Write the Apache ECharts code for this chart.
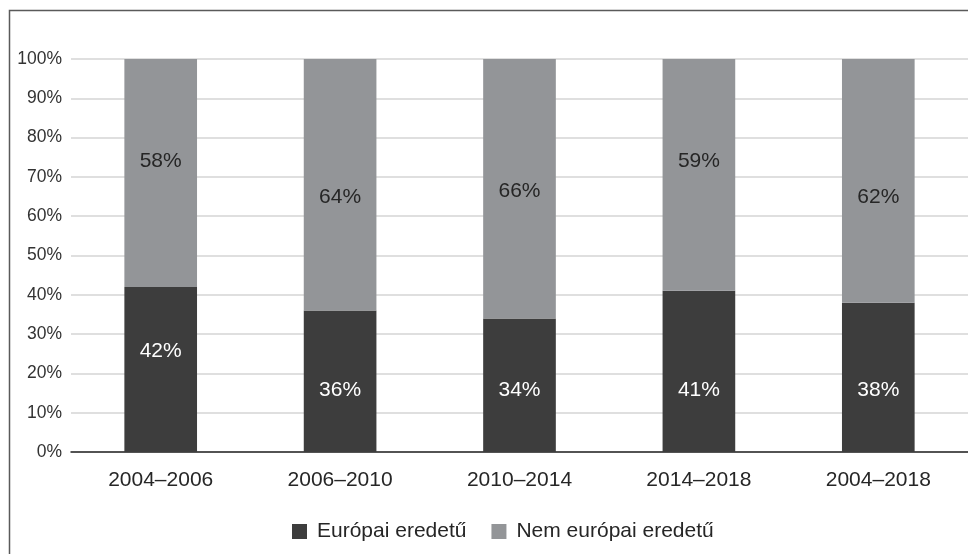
<!DOCTYPE html>
<html>
<head>
<meta charset="utf-8">
<script src="https://cdn.jsdelivr.net/npm/echarts@6/dist/echarts.min.js"></script>
<style>
html,body{margin:0;padding:0;background:#fff;}
#chart{width:968px;height:554px;}
</style>
</head>
<body>
<div id="chart"></div>
<script>
const categories = ['2004–2006', '2006–2010', '2010–2014', '2014–2018', '2004–2018'];
const europeanValues = [42, 36, 34, 41, 38];
const nonEuropeanValues = [58, 64, 66, 59, 62];
const seriesNames = ['Európai eredetű', 'Nem európai eredetű'];
const yTicks = [0, 10, 20, 30, 40, 50, 60, 70, 80, 90, 100];

// label nudges (px) to mimic original label placement
const europeanLabelNudge = [-18, 9, 5, 19, 13];
const nonEuropeanLabelNudge = [-12, 12, 3, -14, 16];

const FONT = '"Liberation Sans", Arial, sans-serif';

const chart = echarts.init(document.getElementById('chart'), null, {renderer: 'canvas'});

function items(values, nudges) {
  return values.map((v, i) => ({value: v, label: {offset: [0, nudges[i]]}}));
}

chart.setOption({
  backgroundColor: '#ffffff',
  animation: false,
  graphic: [{
    type: 'rect',
    shape: {x: 9.5, y: 10.5, width: 1000, height: 600},
    style: {fill: 'none', stroke: '#5a5a5a', lineWidth: 1.5},
    silent: true
  }],
  grid: {left: 71, top: 59, width: 901, bottom: 102},
  legend: {
    left: 287,
    top: 516,
    itemWidth: 15,
    itemHeight: 15,
    itemGap: 25,
    icon: 'rect',
    textStyle: {fontFamily: FONT, fontSize: 21, color: '#262626', padding: [0, 0, 0, 5]},
    data: seriesNames
  },
  xAxis: {
    type: 'category',
    data: categories,
    axisTick: {show: false},
    axisLine: {show: true, lineStyle: {color: '#262626', width: 1.5}},
    axisLabel: {fontFamily: FONT, fontSize: 21, color: '#262626', margin: 18}
  },
  yAxis: {
    type: 'value',
    min: yTicks[0],
    max: yTicks[yTicks.length - 1],
    interval: 10,
    axisLine: {show: false},
    axisTick: {show: false},
    splitLine: {lineStyle: {color: '#d4d4d4', width: 1.5}},
    axisLabel: {fontFamily: FONT, fontSize: 17.5, color: '#333333', margin: 9, formatter: v => v + '%'}
  },
  series: [
    {
      name: seriesNames[0],
      type: 'bar',
      stack: 'total',
      barWidth: '40.5%',
      itemStyle: {color: '#3d3d3d'},
      label: {show: true, position: 'inside', fontFamily: FONT, fontSize: 21, color: '#ffffff', formatter: p => p.value + '%'},
      data: items(europeanValues, europeanLabelNudge)
    },
    {
      name: seriesNames[1],
      type: 'bar',
      stack: 'total',
      barWidth: '40.5%',
      itemStyle: {color: '#939598'},
      label: {show: true, position: 'inside', fontFamily: FONT, fontSize: 21, color: '#262626', formatter: p => p.value + '%'},
      data: items(nonEuropeanValues, nonEuropeanLabelNudge)
    }
  ]
});
</script>
</body>
</html>
